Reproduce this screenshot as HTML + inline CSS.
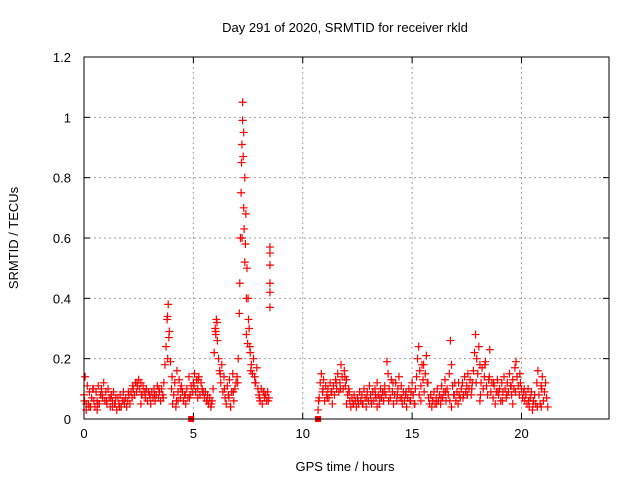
<!DOCTYPE html>
<html><head><meta charset="utf-8"><style>
body{margin:0;background:#fff}
svg text{font-family:"Liberation Sans",sans-serif;font-size:13px;fill:#000}
</style></head><body>
<svg id="chart" width="640" height="480" xmlns="http://www.w3.org/2000/svg">
<rect width="640" height="480" fill="#fff"/>
<text x="345" y="32" text-anchor="middle">Day 291 of 2020, SRMTID for receiver rkld</text>
<text x="345" y="471" text-anchor="middle">GPS time / hours</text>
<text transform="translate(18,238) rotate(-90)" text-anchor="middle">SRMTID / TECUs</text>
<g id="grid"></g>
<g id="axes"></g>
<g id="marks"></g>
<rect x="84" y="57" width="525" height="362" fill="none" stroke="#000" stroke-width="1"/>
</svg>
<script>
const xTicks=[0,5,10,15,20];
const yTicks=[0,0.2,0.4,0.6,0.8,1,1.2];
const yTickLabels=["0","0.2","0.4","0.6","0.8","1","1.2"];
const segAStart=0, segAStep=0.05;
const segAValues=[0.08,0.14,0.03,0.11,0.05,0.09,0.04,0.07,0.10,0.06,
0.04,0.09,0.06,0.11,0.05,0.08,0.10,0.07,0.12,0.06,
0.09,0.05,0.10,0.07,0.04,0.08,0.06,0.09,0.05,0.07,
0.03,0.07,0.05,0.08,0.04,0.06,0.09,0.05,0.07,0.04,
0.06,0.08,0.05,0.09,0.07,0.10,0.08,0.12,0.09,0.11,
0.13,0.10,0.12,0.08,0.11,0.09,0.07,0.10,0.06,0.09,
0.08,0.05,0.09,0.07,0.10,0.06,0.08,0.11,0.07,0.09,
0.06,0.10,0.08,0.12,0.18,0.24,0.33,0.38,0.29,0.19,
0.10,0.05,0.08,0.12,0.04,0.16,0.09,0.13,0.07,0.11,
0.09,0.06,0.08,0.05,0.10,0.07,0.14,0.08,0.11,0.09,
0.12,0.15,0.09,0.13,0.10,0.14,0.08,0.12,0.10,0.09,
0.07,0.09,0.06,0.08,0.05,0.07,0.04,0.06,0.10,0.22,
0.30,0.33,0.26,0.20,0.16,0.12,0.18,0.09,0.14,0.07,
0.05,0.11,0.08,0.13,0.04,0.09,0.15,0.06,0.10,0.12,
0.14,0.20,0.35,0.60,0.85,1.05,0.95,0.80,0.68,0.50,
0.40,0.30,0.22,0.18,0.15,0.20,0.14,0.12,0.17,0.10,
0.08,0.06,0.10,0.05,0.09,0.07,0.08,0.06,0.09,0.07,0.45];
const segA2Start=0.025, segA2Step=0.2;
const segA2Values=[0.06,0.04,0.10,0.05,0.08,0.06,0.07,0.05,0.04,0.06,0.09,0.11,0.12,0.08,0.09,0.07,0.08,0.10,0.07,0.20,0.14,0.06,0.10,0.08,0.07,0.11,0.13,0.09,0.06,0.05,0.28,0.15,0.10,0.07,0.09,0.12,0.60,0.40,0.16,0.12,0.07,0.09,0.06];
const segBStart=10.7, segBStep=0.05;
const segBValues=[0.03,0.07,0.12,0.15,0.09,0.13,0.06,0.11,0.08,0.10,
0.07,0.12,0.09,0.05,0.11,0.08,0.13,0.10,0.15,0.09,
0.12,0.18,0.14,0.10,0.16,0.11,0.13,0.08,0.10,0.06,
0.04,0.07,0.05,0.08,0.06,0.04,0.07,0.05,0.09,0.06,
0.08,0.05,0.10,0.07,0.04,0.09,0.06,0.11,0.08,0.05,
0.09,0.06,0.10,0.07,0.12,0.08,0.05,0.10,0.07,0.09,
0.06,0.11,0.08,0.19,0.15,0.10,0.07,0.13,0.09,0.05,
0.08,0.12,0.06,0.10,0.14,0.07,0.11,0.05,0.09,0.06,
0.08,0.04,0.07,0.10,0.06,0.09,0.12,0.08,0.05,0.10,
0.14,0.20,0.24,0.16,0.11,0.18,0.13,0.09,0.15,0.21,
0.12,0.07,0.05,0.08,0.04,0.06,0.09,0.05,0.07,0.10,
0.06,0.08,0.05,0.11,0.07,0.09,0.13,0.06,0.10,0.08,
0.15,0.26,0.18,0.11,0.08,0.12,0.06,0.09,0.05,0.08,
0.07,0.10,0.12,0.08,0.14,0.09,0.11,0.15,0.10,0.13,
0.08,0.12,0.16,0.22,0.28,0.20,0.15,0.24,0.18,0.12,
0.17,0.10,0.14,0.19,0.11,0.08,0.13,0.23,0.09,0.12,
0.07,0.11,0.05,0.09,0.13,0.08,0.10,0.06,0.12,0.09,
0.14,0.10,0.07,0.12,0.09,0.15,0.11,0.08,0.13,0.10,
0.17,0.19,0.14,0.11,0.08,0.12,0.10,0.07,0.09,0.06,
0.08,0.05,0.10,0.04,0.07,0.09,0.03,0.06,0.08,0.05,
0.12,0.16,0.08,0.05,0.11,0.14,0.06,0.09,0.12,0.07,0.04];
const segB2Start=10.725, segB2Step=0.2;
const segB2Values=[0.06,0.10,0.07,0.09,0.12,0.10,0.14,0.09,0.05,0.06,0.05,0.07,0.06,0.08,0.07,0.09,0.06,0.12,0.08,0.07,0.09,0.06,0.05,0.08,0.18,0.12,0.06,0.05,0.07,0.09,0.06,0.08,0.12,0.07,0.08,0.10,0.12,0.08,0.18,0.14,0.12,0.09,0.06,0.08,0.11,0.09,0.15,0.10,0.06,0.05,0.04,0.10];
const extraHours=[7.12,7.18,7.22,7.28,7.32,7.38,7.42,7.48,7.52,7.58,3.82,3.88,6.02,6.08,8.5,8.5,8.5,8.5,8.5,7.25,7.3,7.35,0.1,0.6,1.3,2.6,4.3,5.2,6.7,12.0,13.4,15.4,16.8,18.1,19.6,20.9];
const extraValues=[0.45,0.75,0.91,0.87,0.63,0.58,0.28,0.25,0.33,0.24,0.34,0.27,0.29,0.32,0.57,0.55,0.51,0.42,0.37,0.99,0.70,0.52,0.05,0.03,0.04,0.05,0.06,0.07,0.04,0.05,0.04,0.06,0.04,0.06,0.05,0.04];
const squareHours=[4.9,10.7];
const squareValues=[0,0];

const X0=84,X1=609,Y0=419,Y1=57,XMAX=24,YMAX=1.2;
const sx=h=>X0+h/XMAX*(X1-X0);
const sy=v=>Y0-v/YMAX*(Y0-Y1);
const NS="http://www.w3.org/2000/svg";
const mk=(t,a,p)=>{const e=document.createElementNS(NS,t);for(const k in a)e.setAttribute(k,a[k]);p.appendChild(e);return e;};
const grid=document.getElementById('grid'),axes=document.getElementById('axes'),marks=document.getElementById('marks');
xTicks.forEach(t=>{const x=sx(t);
 if(t>0){const g=mk('line',{x1:x,y1:Y0,x2:x,y2:Y1,stroke:'#a0a0a0','stroke-dasharray':'2,3'},grid);
 }
 mk('line',{x1:x,y1:Y0,x2:x,y2:Y0-6,stroke:'#000'},axes);mk('line',{x1:x,y1:Y1,x2:x,y2:Y1+6,stroke:'#000'},axes);
 const l=mk('text',{x:x,y:Y0+19,'text-anchor':'middle'},axes);l.textContent=t;
 });
yTicks.forEach((t,i)=>{const y=sy(t);
 if(t>0&&t<YMAX){const g=mk('line',{x1:X0,y1:y,x2:X1,y2:y,stroke:'#a0a0a0','stroke-dasharray':'2,3'},grid);
 }
 mk('line',{x1:X0,y1:y,x2:X0+6,y2:y,stroke:'#000'},axes);mk('line',{x1:X1,y1:y,x2:X1-6,y2:y,stroke:'#000'},axes);
 const l=mk('text',{x:X0-13,y:y+5,'text-anchor':'end'},axes);l.textContent=yTickLabels[i];
 });
function plus(h,v){const x=sx(h),y=sy(v);
 const p=mk('path',{d:`M${x-4},${y}H${x+4}M${x},${y-4}V${y+4}`,stroke:'#f00','stroke-width':1.2},marks);
 }
segAValues.forEach((v,i)=>plus(segAStart+i*segAStep,v));
segA2Values.forEach((v,i)=>plus(segA2Start+i*segA2Step,v));
segBValues.forEach((v,i)=>plus(segBStart+i*segBStep,v));
segB2Values.forEach((v,i)=>plus(segB2Start+i*segB2Step,v));
extraHours.forEach((h,i)=>plus(h,extraValues[i]));
squareHours.forEach((h,i)=>{const r=mk('rect',{x:sx(h)-3,y:sy(squareValues[i])-3,width:6,height:6,fill:'#f00'},marks);
 });
</script>
</body></html>
